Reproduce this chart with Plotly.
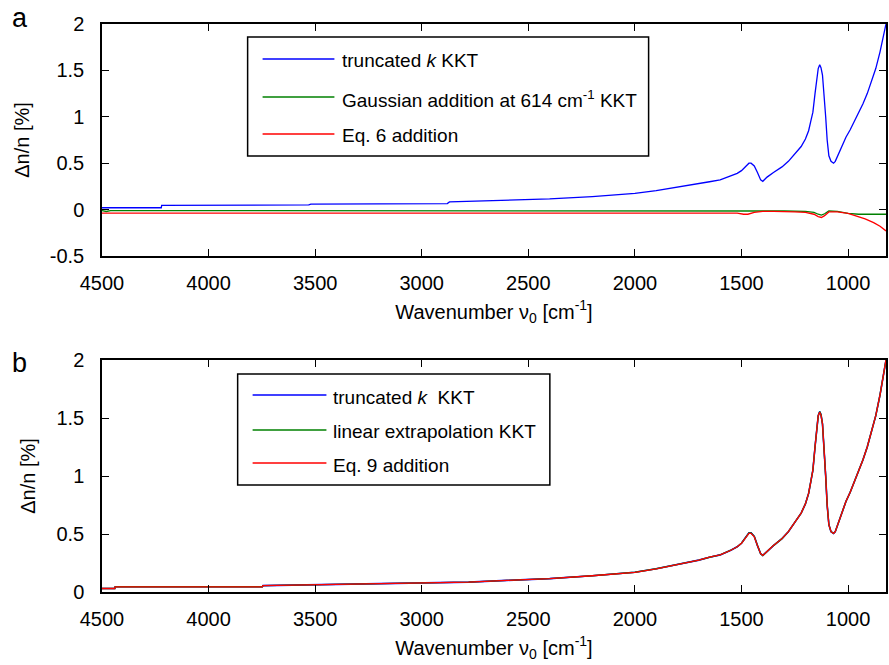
import plotly.graph_objects as go

# ---------------- data ----------------
# Panel a: relative refractive-index error (%) vs wavenumber (cm^-1)
wn_a_blue = [4500, 4222, 4220, 3530, 3520, 2880, 2870, 2600, 2400, 2200, 2000, 1900,
             1800, 1700, 1650, 1600, 1550, 1520, 1500, 1480, 1465, 1455, 1440, 1425,
             1410, 1400, 1380, 1350, 1310, 1280, 1250, 1220, 1200, 1185, 1175, 1165,
             1155, 1148, 1140, 1133, 1127, 1120, 1112, 1105, 1098, 1090, 1080, 1068,
             1060, 1045, 1030, 1010, 990, 970, 950, 930, 910, 890, 870, 850, 835, 822]
dn_a_blue = [0.020, 0.020, 0.045, 0.050, 0.060, 0.065, 0.083, 0.100, 0.115, 0.140, 0.175, 0.205,
             0.240, 0.280, 0.300, 0.320, 0.360, 0.390, 0.420, 0.470, 0.500, 0.500, 0.470, 0.400,
             0.320, 0.305, 0.350, 0.400, 0.460, 0.520, 0.600, 0.680, 0.760, 0.850, 0.950, 1.050,
             1.250, 1.400, 1.520, 1.560, 1.530, 1.450, 1.250, 1.000, 0.750, 0.580, 0.520, 0.500,
             0.520, 0.600, 0.680, 0.780, 0.860, 0.950, 1.040, 1.140, 1.250, 1.380, 1.520, 1.700,
             1.850, 2.000]

wn_a_green = [4500, 4480, 4460, 3550, 3400, 3200, 3000, 2900, 1500, 1400, 1300, 1200,
              1160, 1140, 1125, 1110, 1090, 1050, 1000, 950, 900, 850, 822]
dn_a_green = [-0.010, -0.020, -0.010, -0.010, -0.015, -0.015, -0.015, -0.010, -0.010, -0.015, -0.015, -0.020,
              -0.030, -0.050, -0.060, -0.045, -0.015, -0.020, -0.040, -0.050, -0.050, -0.050, -0.050]

wn_a_red = [4500, 1520, 1490, 1470, 1440, 1400, 1350, 1300, 1250, 1200, 1160, 1140,
            1125, 1110, 1090, 1050, 1000, 960, 920, 880, 850, 822]
dn_a_red = [-0.037, -0.037, -0.050, -0.050, -0.030, -0.020, -0.020, -0.020, -0.025, -0.030, -0.050, -0.075,
            -0.085, -0.065, -0.025, -0.025, -0.040, -0.070, -0.100, -0.140, -0.180, -0.230]

# Panel b: the three corrected spectra overlap almost completely
wn_b = [4500, 4440, 4438, 3748, 3745, 3380, 2780, 2600, 2400, 2200, 2000, 1900,
        1800, 1700, 1650, 1600, 1550, 1520, 1500, 1480, 1465, 1455, 1440, 1425,
        1410, 1400, 1380, 1350, 1310, 1280, 1250, 1220, 1200, 1185, 1175, 1165,
        1155, 1148, 1140, 1133, 1127, 1120, 1112, 1105, 1098, 1090, 1080, 1068,
        1060, 1045, 1030, 1010, 990, 970, 950, 930, 910, 890, 870, 850, 835, 822]
dn_b_blue = [0.030, 0.030, 0.045, 0.045, 0.055, 0.065, 0.085, 0.100, 0.115, 0.140, 0.170, 0.200,
             0.235, 0.275, 0.300, 0.320, 0.360, 0.390, 0.420, 0.470, 0.510, 0.510, 0.480, 0.400,
             0.330, 0.315, 0.350, 0.400, 0.460, 0.520, 0.600, 0.680, 0.760, 0.850, 0.950, 1.050,
             1.250, 1.400, 1.520, 1.555, 1.530, 1.450, 1.250, 1.000, 0.750, 0.580, 0.520, 0.505,
             0.520, 0.600, 0.680, 0.780, 0.860, 0.950, 1.040, 1.140, 1.250, 1.380, 1.520, 1.700,
             1.850, 2.000]
dn_b_green = [0.030, 0.030, 0.045, 0.045, 0.055, 0.065, 0.085, 0.100, 0.115, 0.140, 0.170, 0.200,
              0.235, 0.275, 0.300, 0.320, 0.360, 0.390, 0.420, 0.470, 0.510, 0.510, 0.480, 0.400,
              0.330, 0.315, 0.350, 0.400, 0.460, 0.520, 0.600, 0.680, 0.760, 0.850, 0.950, 1.050,
              1.250, 1.400, 1.520, 1.555, 1.530, 1.450, 1.250, 1.000, 0.750, 0.580, 0.520, 0.505,
              0.520, 0.600, 0.680, 0.780, 0.860, 0.950, 1.040, 1.140, 1.250, 1.380, 1.520, 1.700,
              1.850, 2.000]
dn_b_red = [0.030, 0.030, 0.045, 0.045, 0.055, 0.065, 0.085, 0.100, 0.115, 0.140, 0.170, 0.200,
            0.235, 0.275, 0.300, 0.320, 0.360, 0.390, 0.420, 0.470, 0.505, 0.505, 0.475, 0.400,
            0.330, 0.315, 0.350, 0.400, 0.460, 0.520, 0.600, 0.680, 0.760, 0.850, 0.950, 1.050,
            1.250, 1.400, 1.520, 1.550, 1.525, 1.450, 1.250, 1.000, 0.750, 0.580, 0.520, 0.505,
            0.520, 0.600, 0.680, 0.780, 0.860, 0.950, 1.040, 1.140, 1.250, 1.380, 1.520, 1.700,
            1.850, 2.000]

legend_a = ["truncated <i>k</i> KKT",
            "Gaussian addition at 614 cm<sup>-1</sup> KKT",
            "Eq. 6 addition"]
legend_b = ["truncated <i>k</i>  KKT",
            "linear extrapolation KKT",
            "Eq. 9 addition"]

x_ticks = [4500, 4000, 3500, 3000, 2500, 2000, 1500, 1000]
ya_ticks = [-0.5, 0, 0.5, 1, 1.5, 2]
yb_ticks = [0, 0.5, 1, 1.5, 2]

BLUE, GREEN, RED = "#0000ff", "#008000", "#ff0000"
FONT = "Liberation Sans, Arial, sans-serif"

# ---------------- figure ----------------
W, H = 889, 665
ML, MR, MT, MB = 102, 1, 24, 73
PW, PH = W - ML - MR, H - MT - MB


def px(x):
    return (x - ML) / PW


def py(y):
    return (H - MB - y) / PH


def tick_text(vals):
    return [("%g" % v) for v in vals]


fig = go.Figure()
fig.add_trace(go.Scatter(x=wn_a_blue, y=dn_a_blue, mode="lines", line=dict(color=BLUE, width=1.3),
                         xaxis="x", yaxis="y"))
fig.add_trace(go.Scatter(x=wn_a_green, y=dn_a_green, mode="lines", line=dict(color=GREEN, width=1.3),
                         xaxis="x", yaxis="y"))
fig.add_trace(go.Scatter(x=wn_a_red, y=dn_a_red, mode="lines", line=dict(color=RED, width=1.3),
                         xaxis="x", yaxis="y"))
fig.add_trace(go.Scatter(x=wn_b, y=dn_b_blue, mode="lines", line=dict(color=BLUE, width=1.6),
                         xaxis="x2", yaxis="y2"))
fig.add_trace(go.Scatter(x=wn_b, y=dn_b_green, mode="lines", line=dict(color=GREEN, width=1.4),
                         xaxis="x2", yaxis="y2"))
fig.add_trace(go.Scatter(x=wn_b, y=dn_b_red, mode="lines", line=dict(color=RED, width=1.3),
                         xaxis="x2", yaxis="y2"))

axis_common = dict(showline=True, linecolor="black", linewidth=1.5, mirror="ticks",
                   ticks="inside", ticklen=7, tickwidth=1.2, tickcolor="black",
                   showgrid=False, zeroline=False,
                   tickfont=dict(family=FONT, size=20, color="black"))

xtitle = dict(text="Wavenumber \u03bd<sub>0</sub> [cm<sup>-1</sup>]",
              font=dict(family=FONT, size=20, color="black"), standoff=12)
ytitle = dict(text="\u0394n/n [%]", font=dict(family=FONT, size=20, color="black"), standoff=15)

dom_a = [py(256), 1]
dom_b = [0, py(360)]

fig.update_layout(
    width=W, height=H,
    margin=dict(l=ML, r=MR, t=MT, b=MB),
    paper_bgcolor="white", plot_bgcolor="white",
    showlegend=False,
    xaxis=dict(axis_common, range=[4500, 822], tickvals=x_ticks, ticktext=tick_text(x_ticks),
               ticklabelstandoff=8, anchor="y", title=xtitle),
    yaxis=dict(axis_common, range=[-0.5, 2], tickvals=ya_ticks, ticktext=tick_text(ya_ticks),
               ticklabelstandoff=12, domain=dom_a, anchor="x", title=ytitle),
    xaxis2=dict(axis_common, range=[4500, 822], tickvals=x_ticks, ticktext=tick_text(x_ticks),
                ticklabelstandoff=8, anchor="y2", title=xtitle),
    yaxis2=dict(axis_common, range=[0, 2], tickvals=yb_ticks, ticktext=tick_text(yb_ticks),
                ticklabelstandoff=12, domain=dom_b, anchor="x2", title=ytitle),
)

shapes = []
annotations = []

# panel letters
annotations.append(dict(text="a", x=px(20), y=py(18), xref="paper", yref="paper",
                        xanchor="center", yanchor="middle",
                        showarrow=False, font=dict(family=FONT, size=27, color="black")))
annotations.append(dict(text="b", x=px(19), y=py(363), xref="paper", yref="paper",
                        xanchor="center", yanchor="middle",
                        showarrow=False, font=dict(family=FONT, size=27, color="black")))


def add_legend(box, rows, line_x0, line_x1, text_x, labels):
    x0, y0, x1, y1 = box
    shapes.append(dict(type="rect", xref="paper", yref="paper",
                       x0=px(x0), x1=px(x1), y0=py(y1), y1=py(y0),
                       line=dict(color="black", width=1.5), fillcolor="white", layer="above"))
    for yr, col, lab in zip(rows, [BLUE, GREEN, RED], labels):
        shapes.append(dict(type="line", xref="paper", yref="paper",
                           x0=px(line_x0), x1=px(line_x1), y0=py(yr), y1=py(yr),
                           line=dict(color=col, width=1.3), layer="above"))
        annotations.append(dict(text=lab, x=px(text_x), y=py(yr + 2), xref="paper", yref="paper",
                                xanchor="left", yanchor="middle", showarrow=False,
                                font=dict(family=FONT, size=19, color="black")))


add_legend((248, 37, 650, 156), [59, 97, 134], 263, 335, 341, legend_a)
add_legend((238, 374, 551, 485), [395, 430, 463], 253, 327, 332, legend_b)

fig.update_layout(shapes=shapes, annotations=annotations)

fig.write_html("out.html")
